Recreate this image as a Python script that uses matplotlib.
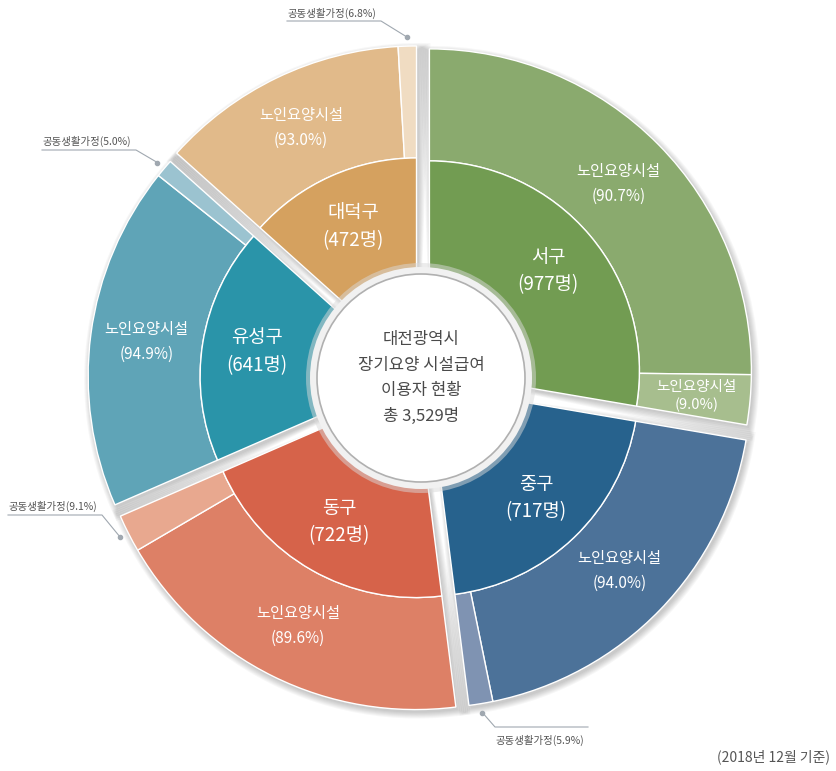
import numpy as np
import matplotlib.pyplot as plt
from matplotlib.patches import Wedge, Circle

plt.rcParams['font.family'] = ['Noto Sans CJK KR', 'DejaVu Sans']

# ----------------------------------------------
# data
districts = ['서구', '중구', '동구', '유성구', '대덕구']
counts = [977, 717, 722, 641, 472]
nursing_pct = [90.7, 94.0, 89.6, 94.9, 93.0]
group_pct = [9.0, 5.9, 9.1, 5.0, 6.8]
big_name = '노인요양시설'
small_names = ['노인요양시설', '공동생활가정', '공동생활가정', '공동생활가정', '공동생활가정']

inner_colors = ['#729c52', '#27628d', '#d6634a', '#2a94a9', '#d5a15f']
big_colors = ['#8aaa6e', '#4c7299', '#dd8066', '#5fa4b7', '#e1ba8a']
small_colors = ['#a7be8e', '#7f93b2', '#e8a88f', '#9bc3d0', '#f0dcc2']

# callout text boxes (left x, text y, underline y) in picture pixels, per district
callout_pos = {1: (495, 740, 727), 2: (8, 506, 515), 3: (42, 141, 150), 4: (287, 13, 21)}

title_lines = ['대전광역시', '장기요양 시설급여', '이용자 현황', '총 3,529명']
footer = '(2018년 12월 기준)'

# ----------------------------------------------
W, H = 837, 771
fig = plt.figure(figsize=(W / 100, H / 100), dpi=100)
ax = fig.add_axes([0, 0, 1, 1])
ax.set_xlim(0, W)
ax.set_ylim(0, H)
ax.set_aspect('equal')
ax.axis('off')

cx, cy = 421, H - 378
r_in, r_out = 210, 322
explode = 11
total = sum(counts)


def polar(c, r, a):
    return c[0] + r * np.cos(np.radians(a)), c[1] + r * np.sin(np.radians(a))


start = 90.0
for i, n in enumerate(counts):
    span = n / total * 360
    a1, a0 = start, start - span
    mid = (a0 + a1) / 2
    c = polar((cx, cy), explode, mid)

    # soft shadow
    for k in range(7):
        ax.add_patch(Wedge((c[0] + 2, c[1] - 3), r_out + k, a0 - k * 0.35, a1 + k * 0.35,
                           color='#000000', alpha=0.03, lw=0, zorder=1))

    # inner wedge
    ax.add_patch(Wedge(c, r_in, a0, a1, fc=inner_colors[i], ec='white', lw=1.0, zorder=3))
    # outer ring
    share = nursing_pct[i] / (nursing_pct[i] + group_pct[i])
    a_split = a1 - span * share
    ax.add_patch(Wedge(c, r_out, a_split, a1, width=r_out - r_in,
                       fc=big_colors[i], ec='white', lw=1.0, zorder=2))
    ax.add_patch(Wedge(c, r_out, a0, a_split, width=r_out - r_in,
                       fc=small_colors[i], ec='white', lw=1.0, zorder=2))

    # labels
    x, y = polar(c, 155, mid)
    ax.text(x, y, '%s\n(%d명)' % (districts[i], n), color='white', fontsize=13.5,
            fontweight='medium', ha='center', va='center', linespacing=1.4, zorder=6)
    bm = (a_split + a1) / 2
    x, y = polar(c, 266, bm)
    ax.text(x, y, '%s\n(%.1f%%)' % (big_name, nursing_pct[i]), color='white', fontsize=11,
            fontweight='medium', ha='center', va='center', linespacing=1.6, zorder=6)

    sm = (a0 + a_split) / 2
    if i == 0:
        x, y = polar(c, 268, sm)
        ax.text(x, y - 1, '%s\n(%.1f%%)' % (small_names[i], group_pct[i]), color='white',
                fontsize=10.5, fontweight='medium', ha='center', va='center',
                linespacing=1.3, zorder=6)
    else:
        lx, ty, uy = callout_pos[i]
        txt = '%s(%.1f%%)' % (small_names[i], group_pct[i])
        ax.text(lx, H - ty, txt, color='#555555', fontsize=7.5, ha='left', va='center', zorder=6)
        dx, dy = polar(c, r_out + 9, sm)
        ax.plot([dx], [dy], 'o', ms=3, color='#a0a8b0', zorder=6)
        if i == 1:
            ux0, ux1 = lx, lx + 93
            ax.plot([dx, ux0, ux1], [dy, H - uy, H - uy], color='#a0a8b0', lw=0.8, zorder=6)
        else:
            ux0, ux1 = lx, lx + 94
            ax.plot([ux0, ux1, dx], [H - uy, H - uy, dy], color='#a0a8b0', lw=0.8, zorder=6)

    start = a0

# centre disc
ax.add_patch(Circle((cx, cy), 115, fc='#dadada', ec='none', alpha=0.5, zorder=4))
ax.add_patch(Circle((cx, cy), 111, fc='#f1f1f1', ec='none', zorder=4))
ax.add_patch(Circle((cx, cy), 104, fc='white', ec='#b0b0b0', lw=1.2, zorder=5))
ax.text(cx, cy, '\n'.join(title_lines), color='#4a4a4a', fontsize=12, fontweight='medium',
        ha='center', va='center', linespacing=1.65, zorder=6)

ax.text(830, H - 757, footer, color='#555555', fontsize=10, ha='right', va='center')

fig.savefig('out.png', dpi=100)
